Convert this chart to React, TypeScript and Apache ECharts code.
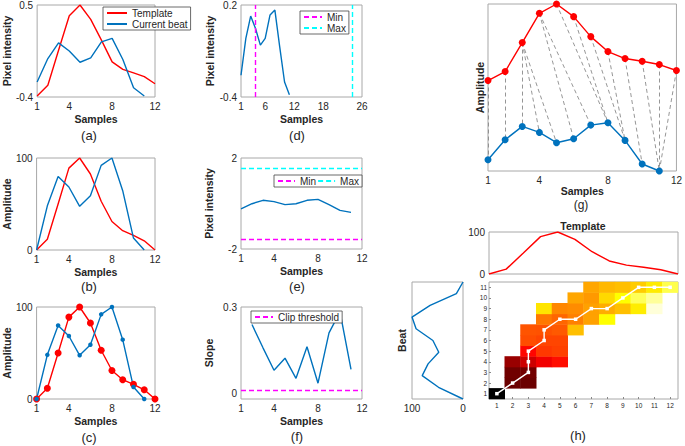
import React, { useEffect, useRef } from "react";
import * as echarts from "echarts";

// ---------- data ----------
const samples12 = [1, 2, 3, 4, 5, 6, 7, 8, 9, 10, 11, 12];
const samples11 = [1, 2, 3, 4, 5, 6, 7, 8, 9, 10, 11];
const slopeSamples = [2, 3, 4, 5, 6, 7, 8, 9, 10, 11];

// (a) raw pixel intensity
const templateRaw = [-0.39, -0.285, 0.058, 0.395, 0.5, 0.36, 0.156, -0.056, -0.13, -0.164, -0.2, -0.27];
const beatRaw = [-0.253, -0.024, 0.13, 0.05, -0.06, -0.017, 0.14, 0.173, -0.033, -0.31, -0.39];
// (b), (c), (h) normalised amplitude
const templateNorm = [0, 11.6, 50, 89, 100, 82.6, 53, 31, 21, 16, 10, 0];
const beatNorm = [0, 48, 80, 68.5, 47.5, 59, 92, 100, 64.5, 13, 0];
// (d)
const beatD = [-0.258, -0.018, 0.128, 0.047, -0.062, -0.018, 0.135, 0.167, -0.073, -0.302, -0.385];
const minLineD = 4;
const maxLineD = 24;
// (e)
const beatE = [-0.24, -0.01, 0.14, 0.08, -0.05, -0.01, 0.14, 0.18, -0.05, -0.3, -0.39];
const minLineE = -1.56;
const maxLineE = 1.56;
// (f)
const slopeF = [0.239, 0.158, 0.08, 0.122, 0.052, 0.162, 0.035, 0.21, 0.283, 0.083];
const clipThreshold = 0.014;
// (g)
const templateG = [54.4, 59.8, 77.2, 94.8, 100.4, 92.8, 80.8, 71.8, 67.6, 66, 64, 60.4];
const beatG = [6.8, 18.8, 26.8, 23.2, 17, 19.4, 27.6, 29, 18.4, 4.2, 0];
// warping path: [template sample, beat sample]
const warpPath = [
  [1, 1], [2, 2], [3, 3], [3, 4], [3, 5], [4, 6], [4, 7], [5, 8],
  [6, 8], [7, 9], [8, 9], [9, 10], [10, 11], [11, 11], [12, 11],
];
// (h) cost matrix cells: [template sample, beat sample, cost]
const costCells = [
  [1, 1, 0.0],
  [2, 2, 0.42], [3, 2, 0.42],
  [2, 3, 0.44], [3, 3, 0.45],
  [2, 4, 0.6], [3, 4, 0.8], [4, 4, 0.95], [5, 4, 1.05],
  [3, 5, 1.02], [4, 5, 1.22], [5, 5, 1.25],
  [3, 6, 1.3], [4, 6, 1.27], [5, 6, 1.27],
  [3, 7, 1.33], [4, 7, 1.32], [5, 7, 1.35], [6, 7, 1.75],
  [4, 8, 1.47], [5, 8, 1.4], [6, 8, 1.5], [7, 8, 1.63], [8, 8, 2.0],
  [4, 9, 1.9], [5, 9, 1.53], [6, 9, 1.55], [7, 9, 1.63], [8, 9, 1.68], [9, 9, 1.75], [10, 9, 1.93], [11, 9, 2.85],
  [6, 10, 1.65], [7, 10, 1.6], [8, 10, 1.85], [9, 10, 2.0], [10, 10, 2.35], [11, 10, 2.6],
  [7, 11, 1.65], [8, 11, 1.72], [9, 11, 1.75], [10, 11, 1.8], [11, 11, 1.92], [12, 11, 2.3],
];
const hotColors = ["#000000", "#ff0000", "#ffff00", "#ffffff"];

const xTicks12 = [1, 4, 8, 12];
const xTicks26 = [1, 6, 12, 18, 26];

// ---------- style ----------
const FONT = "'Liberation Sans', Arial, Helvetica, sans-serif";
const RED = "#ff0000";
const BLUE = "#0072bd";
const MAGENTA = "#ff00ff";
const CYAN = "#00ffff";
const BOX = "#a8a8a8";
const TXT = "#262626";

const pair = (xs: number[], ys: number[]) => ys.map((y, i) => [xs[i], y]);

function fmt(labels: number[]) {
  return (v: number) => {
    const m = labels.find((l) => Math.abs(l - v) < 1e-6);
    return m === undefined ? "" : String(m);
  };
}

function valAxis(gridIndex: number, min: number, max: number, interval: number, labels: number[], extra: any = {}) {
  return {
    type: "value",
    gridIndex,
    min,
    max,
    interval,
    axisLine: { show: false },
    splitLine: { show: false },
    axisTick: { show: false },
    axisLabel: {
      show: labels.length > 0,
      fontSize: 10,
      color: TXT,
      fontFamily: FONT,
      margin: 4,
      formatter: fmt(labels),
    },
    nameTextStyle: { fontSize: 10.5, fontWeight: "bold", color: TXT, fontFamily: FONT },
    ...extra,
  };
}

const xName = (gap = 16) => ({ name: "Samples", nameLocation: "middle", nameGap: gap });
const yName = (name: string, gap: number) => ({ name, nameLocation: "middle", nameGap: gap });

const lineS = (name: string, xi: number, data: any[], color: string, extra: any = {}) => ({
  type: "line",
  name,
  xAxisIndex: xi,
  yAxisIndex: xi,
  data,
  symbol: "none",
  lineStyle: { color, width: 1.4 },
  itemStyle: { color },
  silent: true,
  ...extra,
});

const dashedMark = (name: string, xi: number, color: string, mark: any) => ({
  type: "line",
  name,
  xAxisIndex: xi,
  yAxisIndex: xi,
  data: [],
  symbol: "none",
  lineStyle: { color, width: 1.4, type: [5, 3] },
  itemStyle: { color },
  markLine: {
    symbol: "none",
    silent: true,
    label: { show: false },
    lineStyle: { color, width: 1.4, type: [5, 3] },
    data: [mark],
  },
});

const legendBase = {
  backgroundColor: "#ffffff",
  borderColor: "#444444",
  borderWidth: 0.8,
  borderRadius: 0,
  itemWidth: 20,
  itemHeight: 6,
  itemGap: 1,
  padding: [1, 3, 1, 3],
  itemStyle: { opacity: 0, borderWidth: 0 },
  textStyle: { fontSize: 10, color: TXT, fontFamily: FONT },
  selectedMode: false,
};

const subLabel = (text: string, x: number, y: number, size = 13) => ({
  type: "text",
  x,
  y,
  style: { text, fontSize: size, fill: TXT, fontFamily: FONT, align: "center", verticalAlign: "middle" },
});

export default function App() {
  const ref = useRef<HTMLDivElement>(null);
  useEffect(() => {
    if (!ref.current) return;
    const chart = echarts.init(ref.current, undefined, { renderer: "svg" });

    const grids = [
      { left: 33, top: 5, width: 122, height: 92 }, // a
      { left: 33, top: 158, width: 122, height: 92 }, // b
      { left: 33, top: 307, width: 122, height: 92 }, // c
      { left: 241, top: 5, width: 121, height: 92 }, // d
      { left: 241, top: 158, width: 121, height: 91 }, // e
      { left: 241, top: 307, width: 121, height: 92 }, // f
      { left: 488, top: 4, width: 191, height: 167 }, // g
      { left: 489, top: 232, width: 189, height: 42 }, // h template
      { left: 412, top: 282, width: 51, height: 117 }, // h beat
      { left: 489, top: 282, width: 189, height: 117 }, // h heatmap
    ].map((g) => ({ ...g, show: true, borderColor: BOX, borderWidth: 1, backgroundColor: "#ffffff" }));

    const xAxis: any[] = [
      valAxis(0, 1, 12, 1, xTicks12, xName()),
      valAxis(1, 1, 12, 1, xTicks12, xName()),
      valAxis(2, 1, 12, 1, xTicks12, xName()),
      valAxis(3, 1, 26, 1, xTicks26, xName()),
      valAxis(4, 1, 12, 1, xTicks12, xName()),
      valAxis(5, 1, 12, 1, xTicks12, xName()),
      valAxis(6, 1, 12, 1, xTicks12, xName(14)),
      valAxis(7, 1, 12, 1, []),
      valAxis(8, 0, 100, 100, [0, 100], { inverse: true }),
      {
        type: "category",
        gridIndex: 9,
        data: samples12.map(String),
        axisLine: { show: false },
        splitLine: { show: false },
        axisTick: { show: true, inside: true, length: 2, alignWithLabel: true, lineStyle: { color: "#888" } },
        axisLabel: { fontSize: 6.5, color: TXT, fontFamily: FONT, margin: 3 },
      },
    ];
    const yAxis: any[] = [
      valAxis(0, -0.4, 0.5, 0.1, [-0.4, 0.5], yName("Pixel intensity", 21)),
      valAxis(1, 0, 100, 100, [0, 100], yName("Amplitude", 21)),
      valAxis(2, 0, 100, 100, [0, 100], yName("Amplitude", 21)),
      valAxis(3, -0.4, 0.2, 0.1, [-0.4, 0.2], yName("Pixel intensity", 26)),
      valAxis(4, -2, 2, 1, [-2, 2], yName("Pixel intensity", 27)),
      valAxis(5, -0.02, 0.3, 0.01, [0, 0.3], yName("Slope", 27)),
      valAxis(6, 0, 100.4, 100.4, [], yName("Amplitude", 3)),
      valAxis(7, 0, 100, 100, [0, 100]),
      valAxis(8, 1, 11, 1, [], yName("Beat", 5)),
      {
        type: "category",
        gridIndex: 9,
        data: samples11.map(String),
        axisLine: { show: false },
        splitLine: { show: false },
        axisTick: { show: true, inside: true, length: 2, alignWithLabel: true, lineStyle: { color: "#888" } },
        axisLabel: { fontSize: 6.5, color: TXT, fontFamily: FONT, margin: 2 },
      },
    ];

    const series: any[] = [
      // (a)
      lineS("Template", 0, pair(samples12, templateRaw), RED),
      lineS("Current beat", 0, pair(samples11, beatRaw), BLUE),
      // (b)
      lineS("tb", 1, pair(samples12, templateNorm), RED),
      lineS("bb", 1, pair(samples11, beatNorm), BLUE),
      // (c)
      lineS("tc", 2, pair(samples12, templateNorm), RED, { symbol: "circle", symbolSize: 7, showSymbol: true }),
      lineS("bc", 2, pair(samples11, beatNorm), BLUE, { symbol: "circle", symbolSize: 4.5, showSymbol: true }),
      // (d)
      lineS("bd", 3, pair(samples11, beatD), BLUE),
      dashedMark("Min", 3, MAGENTA, { xAxis: minLineD }),
      dashedMark("Max", 3, CYAN, { xAxis: maxLineD }),
      // (e)
      lineS("be", 4, pair(samples11, beatE), BLUE),
      dashedMark("Min", 4, MAGENTA, { yAxis: minLineE }),
      dashedMark("Max", 4, CYAN, { yAxis: maxLineE }),
      // (f)
      lineS("sf", 5, pair(slopeSamples, slopeF), BLUE),
      dashedMark("Clip threshold", 5, MAGENTA, { yAxis: clipThreshold }),
      // (g)
      {
        type: "lines",
        coordinateSystem: "cartesian2d",
        xAxisIndex: 6,
        yAxisIndex: 6,
        silent: true,
        z: 1,
        lineStyle: { color: "#8a8a8a", width: 0.9, type: [4, 3], opacity: 1 },
        data: warpPath.map(([t, b]) => ({
          coords: [
            [t, templateG[t - 1]],
            [b, beatG[b - 1]],
          ],
        })),
      },
      lineS("tg", 6, pair(samples12, templateG), RED, { symbol: "circle", symbolSize: 7, showSymbol: true, z: 3 }),
      lineS("bg", 6, pair(samples11, beatG), BLUE, { symbol: "circle", symbolSize: 7, showSymbol: true, z: 3 }),
      // (h) template
      lineS("th", 7, pair(samples12, templateNorm), RED),
      // (h) beat (rotated)
      lineS("bh", 8, beatNorm.map((v, i) => [v, samples11[i]]), BLUE),
    ];
    const heatIdx = series.length;
    series.push({
      type: "heatmap",
      xAxisIndex: 9,
      yAxisIndex: 9,
      silent: true,
      data: costCells.map(([t, b, v]) => [t - 1, b - 1, v]),
      itemStyle: { borderWidth: 0 },
      emphasis: { disabled: true },
    });
    series.push({
      type: "line",
      name: "path",
      xAxisIndex: 9,
      yAxisIndex: 9,
      silent: true,
      z: 5,
      data: warpPath.map(([t, b]) => [t - 1, b - 1]),
      symbol: "rect",
      symbolSize: 3.5,
      showSymbol: true,
      lineStyle: { color: "#ffffff", width: 1.4 },
      itemStyle: { color: "#ffffff" },
    });

    const option: any = {
      animation: false,
      textStyle: { fontFamily: FONT },
      grid: grids,
      xAxis,
      yAxis,
      series,
      visualMap: [
        {
          type: "continuous",
          show: false,
          seriesIndex: heatIdx,
          min: 0,
          max: 3,
          dimension: 2,
          inRange: { color: hotColors },
        },
      ],
      legend: [
        { ...legendBase, data: ["Template", "Current beat"], orient: "vertical", left: 103, top: 7 },
        { ...legendBase, data: ["Min", "Max"], orient: "vertical", left: 300, top: 11, itemWidth: 18 },
        { ...legendBase, data: ["Min", "Max"], orient: "horizontal", left: 274, top: 175, itemGap: 1, itemWidth: 17 },
        { ...legendBase, data: ["Clip threshold"], orient: "horizontal", left: 251, top: 311, itemWidth: 18 },
      ],
      graphic: [
        subLabel("(a)", 89, 135),
        subLabel("(b)", 89, 286),
        subLabel("(c)", 89, 437),
        subLabel("(d)", 297, 135),
        subLabel("(e)", 297, 286),
        subLabel("(f)", 297, 436),
        subLabel("(g)", 581, 205, 12),
        subLabel("(h)", 578, 435),
        {
          type: "text",
          x: 583,
          y: 226,
          style: {
            text: "Template",
            fontSize: 10.5,
            fontWeight: "bold",
            fill: TXT,
            fontFamily: FONT,
            align: "center",
            verticalAlign: "middle",
          },
        },
      ],
    };
    chart.setOption(option);
    return () => chart.dispose();
  }, []);

  return (
    <div
      ref={ref}
      style={{ position: "absolute", left: 0, top: 0, width: 685, height: 446, background: "#ffffff" }}
    />
  );
}
